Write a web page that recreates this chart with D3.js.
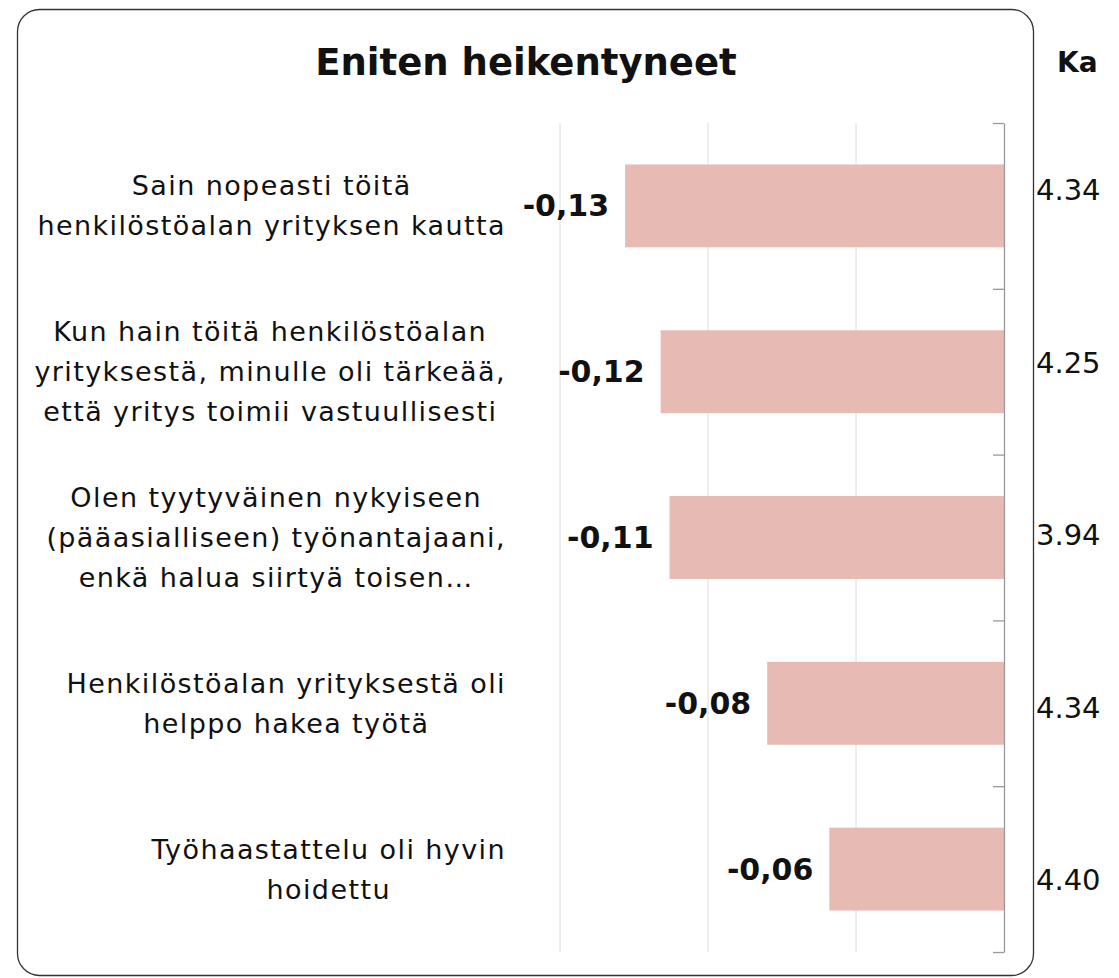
<!DOCTYPE html>
<html>
<head>
<meta charset="utf-8">
<script src="https://cdn.jsdelivr.net/npm/d3@7"></script>
<style>
  body { margin: 0; background: #fff; }
  svg text { font-family: "DejaVu Sans", Inter, sans-serif; fill: #111; }
</style>
</head>
<body>
<div id="chart"></div>
<script>
// data
var title = "Eniten heikentyneet";
var categories = [
  ["Sain nopeasti töitä", "henkilöstöalan yrityksen kautta"],
  ["Kun hain töitä henkilöstöalan", "yrityksestä, minulle oli tärkeää,", "että yritys toimii vastuullisesti"],
  ["Olen tyytyväinen nykyiseen", "(pääasialliseen) työnantajaani,", "enkä halua siirtyä toisen…"],
  ["Henkilöstöalan yrityksestä oli", "helppo hakea työtä"],
  ["Työhaastattelu oli hyvin", "hoidettu"]
];
var changes = [-0.128, -0.116, -0.113, -0.080, -0.059];
var kaHeader = "Ka";
var kaValues = ["4.34", "4.25", "3.94", "4.34", "4.40"];
var gridTicks = [-0.15, -0.10, -0.05];

var svgWidth = 1119;
var svgHeight = 978;

var svg = d3.select("#chart")
  .append("svg")
  .attr("width", svgWidth)
  .attr("height", svgHeight);

// rounded frame
svg.append("rect")
  .attr("x", 17.5)
  .attr("y", 9.5)
  .attr("width", 1016)
  .attr("height", 966)
  .attr("rx", 22)
  .attr("fill", "none")
  .attr("stroke", "#333")
  .attr("stroke-width", 1.3);

svg.append("text")
  .attr("x", 526)
  .attr("y", 62)
  .attr("text-anchor", "middle")
  .attr("dominant-baseline", "central")
  .attr("font-size", 37)
  .attr("font-weight", "bold")
  .text(title);

var ids = categories.map((c, i) => i);

var xScale = d3.scaleLinear()
  .domain([-0.15, 0])
  .range([560, 1004]);

var yScale = d3.scaleBand()
  .domain(ids)
  .range([123, 952])
  .paddingInner(0.5)
  .paddingOuter(0.25);

// gridlines
svg.selectAll("line.grid")
  .data(gridTicks)
  .enter()
  .append("line")
  .attr("class", "grid")
  .attr("x1", d => xScale(d))
  .attr("x2", d => xScale(d))
  .attr("y1", 123)
  .attr("y2", 952)
  .attr("stroke", "#dcdcdc")
  .attr("stroke-width", 1);

// bars
svg.selectAll("rect.bar")
  .data(changes)
  .enter()
  .append("rect")
  .attr("class", "bar")
  .attr("x", d => xScale(d))
  .attr("y", (d, i) => yScale(i))
  .attr("width", d => xScale(0) - xScale(d))
  .attr("height", yScale.bandwidth())
  .attr("fill", "#e7bab4");

// right axis with ticks at band edges
var edgeScale = d3.scaleLinear().domain([0, ids.length]).range([123, 952]);
var rightAxis = d3.axisLeft(edgeScale)
  .tickValues(d3.range(ids.length + 1))
  .tickSize(11)
  .tickSizeOuter(0)
  .tickFormat("");

var axisG = svg.append("g")
  .attr("transform", `translate(${xScale(0)}, 0)`)
  .call(rightAxis);
axisG.selectAll("path, line").attr("stroke", "#999").attr("stroke-width", 1.3);

// value labels
var fmt = d3.format(".2f");
svg.selectAll("text.val")
  .data(changes)
  .enter()
  .append("text")
  .attr("class", "val")
  .attr("x", d => xScale(d) - 16)
  .attr("y", (d, i) => yScale(i) + yScale.bandwidth() / 2)
  .attr("text-anchor", "end")
  .attr("dominant-baseline", "central")
  .attr("font-size", 30)
  .attr("font-weight", "bold")
  .text(d => fmt(d).replace("−", "-").replace(".", ","));

// category labels: block right aligned, lines centred in block
var lineH = 40;
var labelRight = 506;
categories.forEach(function(lines, i) {
  var g = svg.append("g");
  var cy = yScale(i) + yScale.bandwidth() / 2;
  var texts = g.selectAll("text")
    .data(lines)
    .enter()
    .append("text")
    .attr("y", (d, j) => cy + (j - (lines.length - 1) / 2) * lineH)
    .attr("text-anchor", "middle")
    .attr("dominant-baseline", "central")
    .attr("font-size", 27)
    .attr("letter-spacing", 1.4)
    .attr("fill", "#1a1a1a")
    .text(d => d);
  var maxW = 0;
  texts.each(function() { maxW = Math.max(maxW, this.getComputedTextLength()); });
  texts.attr("x", labelRight - maxW / 2);
});

// Ka column
svg.append("text")
  .attr("x", 1057)
  .attr("y", 62)
  .attr("dominant-baseline", "central")
  .attr("font-size", 28)
  .attr("font-weight", "bold")
  .text(kaHeader);

var kaScale = d3.scalePoint()
  .domain(ids)
  .range([190, 880]);

svg.selectAll("text.ka")
  .data(kaValues)
  .enter()
  .append("text")
  .attr("class", "ka")
  .attr("x", 1036)
  .attr("y", (d, i) => kaScale(i))
  .attr("dominant-baseline", "central")
  .attr("font-size", 29)
  .text(d => d);
</script>
</body>
</html>
